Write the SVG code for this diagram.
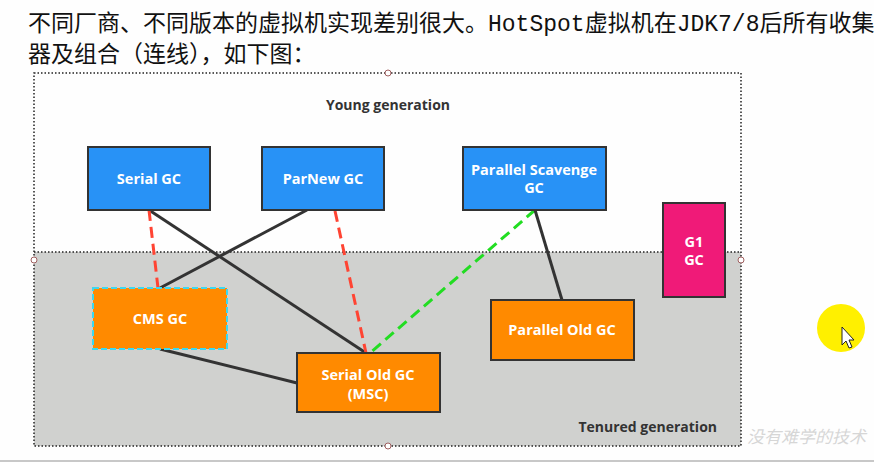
<svg xmlns="http://www.w3.org/2000/svg" width="874" height="462" viewBox="0 0 874 462">
<style>
.node rect{stroke:#333;stroke-width:2}
.blue{fill:#2892f6}
.orange{fill:#ff8a00}
.lbl{font-family:"Open Sans","Noto Sans","DejaVu Sans",sans-serif;font-weight:bold;font-size:14.5px;fill:#fff;text-anchor:middle}
.area{font-family:"Open Sans","Noto Sans","DejaVu Sans",sans-serif;font-weight:bold;font-size:14px;fill:#333}
.title{font-family:"Noto Sans CJK SC","Noto Sans",sans-serif;font-size:23px;fill:#111}
.mono{font-family:"Liberation Mono","DejaVu Sans Mono",monospace}
.solid{stroke:#333;stroke-width:3;fill:none}
.red{stroke:#ff4433;stroke-width:3;stroke-dasharray:11,6;fill:none}
.green{stroke:#22dd22;stroke-width:3;stroke-dasharray:11,6;fill:none}
.dot{fill:none;stroke:#222;stroke-width:1.5;stroke-dasharray:1.5,2}
.handle{fill:#fff;stroke:#a06060;stroke-width:1}
</style>
<rect width="874" height="462" fill="#fefefe"/>
<text class="title" x="28" y="31">不同厂商、不同版本的虚拟机实现差别很大。<tspan class="mono">HotSpot</tspan>虚拟机在<tspan class="mono">JDK7/8</tspan>后所有收集</text>
<text class="title" x="28" y="62">器及组合（连线），如下图：</text>
<g id="young-generation">
<rect x="34" y="73" width="707" height="179" fill="#fefefe"/>
<text class="area" x="388" y="110" text-anchor="middle">Young generation</text>
</g>
<g id="tenured-generation">
<rect x="34" y="252" width="707" height="194" fill="#d0d1cf"/>
<text class="area" x="717" y="432" text-anchor="end">Tenured generation</text>
</g>
<rect class="dot" x="34" y="73" width="707" height="373"/>
<line class="dot" x1="34" y1="252" x2="741" y2="252"/>
<circle class="handle" cx="388" cy="73" r="3"/>
<circle class="handle" cx="741" cy="260" r="3"/>
<circle class="handle" cx="388" cy="446" r="3"/>
<circle class="handle" cx="34" cy="260" r="3"/>
<g id="connectors">
<line class="solid" x1="149" y1="210" x2="366" y2="353"/>
<line class="red" x1="149" y1="210" x2="158" y2="288"/>
<line class="solid" x1="307" y1="210" x2="160" y2="288"/>
<line class="red" x1="335" y1="211" x2="366" y2="353"/>
<line class="green" x1="535" y1="210" x2="370" y2="353"/>
<line class="solid" x1="535" y1="210" x2="562" y2="300"/>
<line class="solid" x1="160" y1="349" x2="297" y2="383"/>
</g>
<g id="serial-gc" class="node">
<rect class="blue" x="88" y="147" width="122" height="63"/>
<text class="lbl" x="149" y="184">Serial GC</text>
</g>
<g id="parnew-gc" class="node">
<rect class="blue" x="262" y="147" width="122" height="63"/>
<text class="lbl" x="323" y="184">ParNew GC</text>
</g>
<g id="parallel-scavenge-gc" class="node">
<rect class="blue" x="463" y="147" width="143" height="63"/>
<text class="lbl" x="534" y="175">Parallel Scavenge</text>
<text class="lbl" x="534" y="193">GC</text>
</g>
<g id="g1-gc" class="node">
<rect x="663" y="203" width="62" height="94" fill="#f01a78"/>
<text class="lbl" x="694" y="247">G1</text>
<text class="lbl" x="694" y="265">GC</text>
</g>
<g id="cms-gc" class="node">
<rect class="orange" x="93" y="288" width="134" height="61" style="stroke:#3cd8f0;stroke-dasharray:6,3"/>
<text class="lbl" x="160" y="324">CMS GC</text>
</g>
<g id="serial-old-gc" class="node">
<rect class="orange" x="297" y="353" width="143" height="59"/>
<text class="lbl" x="368" y="380">Serial Old GC</text>
<text class="lbl" x="368" y="399">(MSC)</text>
</g>
<g id="parallel-old-gc" class="node">
<rect class="orange" x="491" y="300" width="143" height="60"/>
<text class="lbl" x="562" y="335">Parallel Old GC</text>
</g>
<circle cx="841" cy="328" r="24" fill="#fff000"/>
<path d="M842 327 L842 345 L846 341 L849 348 L852 347 L849 340 L854 340 Z" fill="#fff" stroke="#222" stroke-width="1"/>
<text x="747" y="443" font-family="Noto Sans CJK SC,sans-serif" font-size="17" font-style="italic" fill="#d6d6d6">没有难学的技术</text>
<line x1="0" y1="461" x2="874" y2="461" stroke="#c8c8c8" stroke-width="2"/>
</svg>
